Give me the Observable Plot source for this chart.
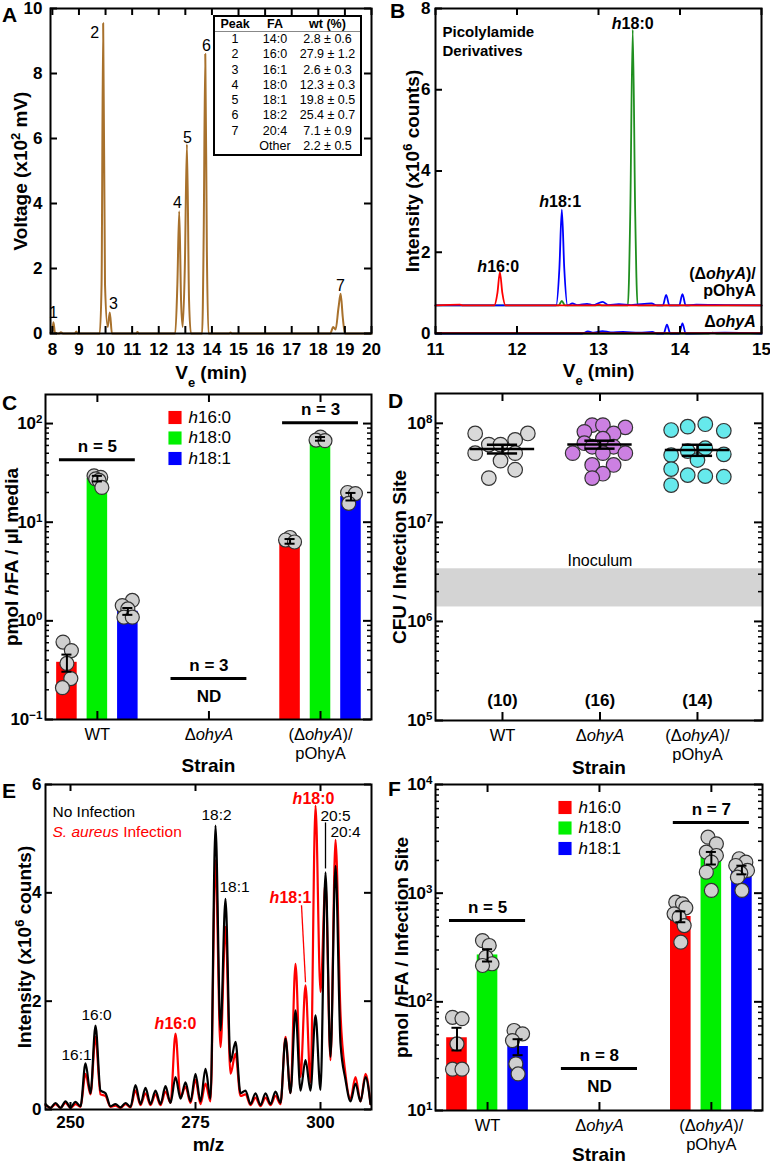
<!DOCTYPE html>
<html><head><meta charset="utf-8">
<script src="https://cdn.jsdelivr.net/npm/d3@7"></script>
<script src="https://cdn.jsdelivr.net/npm/@observablehq/plot@0.6"></script>
<style>
body{margin:0;background:#fff;font-family:"Liberation Sans",Arial,Helvetica,sans-serif;}
#fig{position:relative;width:770px;height:1165px;overflow:hidden;background:#fff;}
.letter{position:absolute;font-weight:bold;font-size:21px;line-height:1;}
#tbl{position:absolute;left:213px;top:15px;width:149px;height:141px;border:2px solid #000;box-sizing:border-box;background:#fff;font-size:12.5px;}
#tbl .row{display:flex;height:15.3px;line-height:15.3px;}
#tbl .hdr{height:14px;line-height:14px;font-weight:bold;border-bottom:1px solid #888;}
#tbl .c1{width:40px;text-align:center}
#tbl .c2{width:40px;text-align:center}
#tbl .c3{width:65px;text-align:center}
</style></head>
<body><div id="fig"></div>
<script>
// ---------------- DATA ----------------
// Panel A: GC chromatogram
const aTime = [7.93,8.0,8.04,8.1,8.25,8.32,8.4,8.85,8.9,8.95,9.78,9.85,9.91,9.98,10.08,10.16,10.24,11.15,11.2,11.25,12.62,12.7,12.77,12.84,12.9,12.98,13.06,13.14,13.21,13.63,13.69,13.75,13.81,13.87,14.65,14.7,14.75,18.45,18.56,18.65,18.76,18.84,18.92,19.0,20.0];
const aVolt = [0.02,0.05,0.35,0.02,0,0.04,0,0,0.06,0,0,1.5,9.55,1.5,0.2,0.65,0,0,0.05,0,0,1.5,3.76,1.0,0.2,2.0,5.82,1.0,0,0,3.0,8.6,2.5,0,0,0.03,0,0,0.2,0.12,0.8,1.22,0.5,0,0];
const aPeakLabel = ["1","2","3","4","5","6","7"];
const aPeakLabelT = [8.04,9.59,10.3,12.7,13.08,13.79,18.83];
const aPeakLabelV = [0.62,9.26,0.92,4.03,6.03,8.86,1.48];
const aTablePeak = ["1","2","3","4","5","6","7",""];
const aTableFA = ["14:0","16:0","16:1","18:0","18:1","18:2","20:4","Other"];
const aTableWt = ["2.8 ± 0.6","27.9 ± 1.2","2.6 ± 0.3","12.3 ± 0.3","19.8 ± 0.5","25.4 ± 0.7","7.1 ± 0.9","2.2 ± 0.5"];
const aXTicks = [8,9,10,11,12,13,14,15,16,17,18,19,20];
const aYTicks = [0,2,4,6,8,10];

// Panel B: LC-MS picolylamide traces [time, intensity x10^6]
const bUpperRed = [[11,0.69],[11.3,0.71],[11.34,0.69],[11.72,0.69],[11.76,1.0],[11.79,1.51],[11.82,1.0],[11.86,0.69],[12.95,0.69],[13.0,0.71],[13.05,0.69],[15,0.69]];
const bUpperBlue = [[11,0.69],[12.48,0.69],[12.52,1.6],[12.55,3.05],[12.58,1.6],[12.62,0.69],[12.68,0.74],[12.74,0.7],[12.86,0.73],[12.93,0.7],[13.05,0.78],[13.12,0.7],[13.25,0.72],[13.4,0.7],[13.65,0.74],[13.72,0.69],[13.79,0.69],[13.83,0.95],[13.87,0.69],[13.99,0.69],[14.03,0.97],[14.07,0.69],[14.2,0.71],[14.55,0.7],[15,0.69]];
const bUpperGreen = [[11,0.69],[12.51,0.69],[12.55,0.8],[12.59,0.69],[13.36,0.69],[13.39,3.0],[13.42,7.48],[13.45,3.0],[13.48,0.69],[15,0.69]];
const bLowerRed = [[11,0.01],[15,0.01]];
const bLowerBlue = [[11,0],[12.8,0],[12.87,0.05],[12.94,0.02],[13.05,0.06],[13.15,0.03],[13.3,0.04],[13.5,0.02],[13.66,0.04],[13.72,0],[13.8,0],[13.84,0.22],[13.88,0],[13.99,0],[14.03,0.25],[14.07,0],[14.55,0.02],[15,0]];
const bLowerGreen = [[11,0],[14.35,0],[14.4,0.02],[14.45,0],[15,0]];
const bPeakLabels = [{text:"*h*18:0", t:13.42, v:7.61},{text:"*h*18:1", t:12.53, v:3.23},{text:"*h*16:0", t:11.77, v:1.65}];
const bTraceLabels = [{text:"(Δ*ohyA*)/\npOhyA", t:14.93, v:1.27},{text:"Δ*ohyA*", t:14.93, v:0.3}];
const bXTicks = [11,12,13,14,15];
const bYTicks = [0,2,4,6,8];

// Shared categories
const STRAINS = ["WT","ΔohyA","(ΔohyA)/pOhyA"];
const STRAIN_LABELS = ["WT","Δ*ohyA*","(Δ*ohyA*)/\npOhyA"];
const SERIES = ["h16:0","h18:0","h18:1"];
const SERIES_LABELS = ["*h*16:0","*h*18:0","*h*18:1"];

// Panel C: hFA in media (pmol/µl)
const cBars = [
  {group:"WT", series:"h16:0", value:0.38, sem:0.075},
  {group:"WT", series:"h18:0", value:27.7, sem:1.8},
  {group:"WT", series:"h18:1", value:1.25, sem:0.1},
  {group:"(ΔohyA)/pOhyA", series:"h16:0", value:6.4, sem:0.35},
  {group:"(ΔohyA)/pOhyA", series:"h18:0", value:70, sem:3},
  {group:"(ΔohyA)/pOhyA", series:"h18:1", value:18.2, sem:1.6}
];
const cPoints = [
  {group:"WT", series:"h16:0", values:[0.61,0.50,0.37,0.26,0.21], jitter:[-0.035,0.04,0,0.035,-0.04]},
  {group:"WT", series:"h18:0", values:[29.5,28.5,27.5,26.5,22.5], jitter:[-0.03,0.03,-0.015,0.015,0.04]},
  {group:"WT", series:"h18:1", values:[1.61,1.43,1.32,1.09,1.09], jitter:[0.04,-0.05,0,-0.035,0.04]},
  {group:"(ΔohyA)/pOhyA", series:"h16:0", values:[7.0,6.6,6.3], jitter:[0,-0.04,0.04]},
  {group:"(ΔohyA)/pOhyA", series:"h18:0", values:[73,68,67], jitter:[0,-0.04,0.04]},
  {group:"(ΔohyA)/pOhyA", series:"h18:1", values:[20,19.5,15.5], jitter:[-0.03,0.04,-0.02]}
];
const cN = [{group:"WT", label:"n = 5", y:43},{group:"ΔohyA", label:"n = 3", y:0.26},{group:"(ΔohyA)/pOhyA", label:"n = 3", y:102}];
const cND = [{group:"ΔohyA", y:0.26}];
const cYTicks = [0.1,1,10,100];
const cYTickLabels = ["10^−1^","10^0^","10^1^","10^2^"];

// Panel D: CFU per infection site
const dPoints = [
  {group:"WT", values:[7.9e7,7.9e7,6.8e7,6.1e7,6.1e7,5.0e7,5.0e7,4.2e7,3.4e7,2.8e7],
   jitter:[-0.28,0.26,0.13,-0.14,-0.02,-0.28,0.13,-0.02,0.13,-0.14]},
  {group:"ΔohyA", values:[9.6e7,9.6e7,9.1e7,8.2e7,7.9e7,7.0e7,6.3e7,5.8e7,5.8e7,5.0e7,5.0e7,5.0e7,3.8e7,3.8e7,3.1e7,2.8e7],
   jitter:[-0.08,0.03,0.26,-0.16,0.14,0.03,-0.16,-0.08,0.14,-0.28,0.03,0.26,-0.08,0.14,0.03,-0.08]},
  {group:"(ΔohyA)/pOhyA", values:[8.55e7,9.25e7,9.8e7,8.4e7,4.78e7,5.25e7,5.6e7,4.86e7,4.26e7,3.45e7,3.0e7,2.93e7,2.89e7,2.38e7],
   jitter:[-0.27,-0.1,0.08,0.27,-0.27,-0.1,0.08,0.27,0,-0.27,-0.1,0.08,0.27,-0.27]}
];
const dInoculum = [1.4e6, 3.4e6];
const dYTicks = [1e5,1e6,1e7,1e8];
const dYTickLabels = ["10^5^","10^6^","10^7^","10^8^"];

// Panel E: MS spectrum, intensity x10^6
const eMz = [245,246,247,248,249,250,251,252,253,254,255,256,257,258,259,260,261,262,263,264,265,266,267,268,269,270,271,272,273,274,275,276,277,278,279,280,281,282,283,284,285,286,287,288,289,290,291,292,293,294,295,296,297,298,299,300,301,302,303,304,305,306,307,308,309,310];
const eNoInfection = [0.10,0.03,0.12,0.03,0.15,0.04,0.14,0.06,0.85,0.30,1.55,0.35,0.30,0.06,0.10,0.04,0.12,0.05,0.45,0.10,0.40,0.10,0.35,0.10,0.43,0.12,0.60,0.20,0.50,0.15,0.66,0.15,0.75,0.20,5.24,1.46,3.89,0.88,1.25,0.30,0.35,0.10,0.30,0.08,0.30,0.10,0.33,0.12,1.31,0.30,1.83,0.35,0.91,0.35,1.74,0.36,4.38,0.97,4.50,1.22,0.55,0.15,0.48,0.15,0.60,0.10];
const eInfection = [0.08,0.03,0.10,0.03,0.12,0.03,0.10,0.05,0.66,0.28,1.34,0.28,0.25,0.05,0.07,0.03,0.10,0.04,0.35,0.08,0.30,0.08,0.28,0.08,0.33,0.12,1.40,0.22,0.42,0.12,0.55,0.10,0.48,0.15,4.60,1.15,3.37,0.66,1.03,0.25,0.28,0.08,0.22,0.06,0.22,0.08,0.25,0.10,1.34,0.30,2.69,0.60,2.29,0.50,5.61,2.17,4.20,0.91,4.98,1.77,0.65,0.20,0.60,0.15,0.66,0.10];
const eLabels = [
  {text:"16:1", mz:251.2, v:1.0, hydroxy:false},
  {text:"16:0", mz:255.2, v:1.74, hydroxy:false},
  {text:"*h*16:0", mz:271.0, v:1.59, hydroxy:true},
  {text:"18:2", mz:279.2, v:5.43, hydroxy:false},
  {text:"18:1", mz:282.8, v:4.1, hydroxy:false},
  {text:"*h*18:1", mz:294.0, v:3.9, hydroxy:true},
  {text:"*h*18:0", mz:298.6, v:5.74, hydroxy:true},
  {text:"20:5", mz:303.0, v:5.41, hydroxy:false},
  {text:"20:4", mz:305.0, v:5.13, hydroxy:false}
];
const eLeaders = [{mz1:296.2, v1:3.77, mz2:297.0, v2:2.35, hydroxy:true},{mz1:301.0, v1:5.3, mz2:301.0, v2:4.45, hydroxy:false}];
const eXTicks = [250,275,300];
const eYTicks = [0,2,4,6];

// Panel F: hFA per infection site (pmol)
const fBars = [
  {group:"WT", series:"h16:0", value:46.7, sem:11},
  {group:"WT", series:"h18:0", value:270, sem:35},
  {group:"WT", series:"h18:1", value:38.8, sem:6.5},
  {group:"(ΔohyA)/pOhyA", series:"h16:0", value:610, sem:70},
  {group:"(ΔohyA)/pOhyA", series:"h18:0", value:2115, sem:280},
  {group:"(ΔohyA)/pOhyA", series:"h18:1", value:1640, sem:150}
];
const fPoints = [
  {group:"WT", series:"h16:0", values:[72,70,41,24,24], jitter:[-0.04,0.045,0,-0.04,0.045]},
  {group:"WT", series:"h18:0", values:[366,330,258,224,216], jitter:[-0.045,0.015,-0.015,0.04,-0.045]},
  {group:"WT", series:"h18:1", values:[54.5,50.8,44,26.9,21.7], jitter:[-0.036,0.04,-0.05,-0.02,0]},
  {group:"(ΔohyA)/pOhyA", series:"h16:0", values:[826,798,733,646,601,503,354], jitter:[-0.045,0.015,0.045,-0.06,-0.015,0.03,0]},
  {group:"(ΔohyA)/pOhyA", series:"h18:0", values:[3273,2843,2384,2222,1930,1561,1059], jitter:[-0.03,0.045,-0.045,0.045,0,-0.045,0]},
  {group:"(ΔohyA)/pOhyA", series:"h18:1", values:[2073,1930,1798,1618,1528,1403,1059], jitter:[-0.025,0.035,-0.055,0.05,-0.01,-0.04,0]}
];
const fN = [{group:"WT", label:"n = 5", y:560},{group:"ΔohyA", label:"n = 8", y:24.3},{group:"(ΔohyA)/pOhyA", label:"n = 7", y:4470}];
const fND = [{group:"ΔohyA", y:24.3}];
const fYTicks = [10,100,1000,10000];
const fYTickLabels = ["10^1^","10^2^","10^3^","10^4^"];

// ---------------- STYLE / LAYOUT ----------------
const FONT = '"Liberation Sans", Arial, Helvetica, sans-serif';
const STYLE = {fontFamily: FONT, fontSize: "16px", color: "#000", background: "transparent", overflow: "visible"};
const SERIES_COLORS = ["#ff0000","#00f000","#0000ff"];
const D_FILLS = ["#d9d9d9","#cc80e2","#66e9ec"];
const SER_OFF = [-0.273, 0, 0.273];
const BAR_HALF = 0.092, CAP_HALF = 0.045, ANN_HALF = 0.34;
const fig = document.getElementById("fig");
const fmtNum = d => String(d);

function richify(root) {
  const els = Array.from(root.querySelectorAll("text, tspan"));
  for (const el of els) {
    if (el.children.length) continue;
    const s = el.textContent;
    if (!/[*^_]/.test(s)) continue;
    const parts = s.split(/(\*[^*]+\*|\^[^^]+\^|_[^_]+_)/).filter(p => p);
    el.textContent = "";
    for (const p of parts) {
      const t = document.createElementNS("http://www.w3.org/2000/svg", "tspan");
      if (p.length > 1 && p[0] === "*" && p.endsWith("*")) { t.setAttribute("font-style", "italic"); t.textContent = p.slice(1, -1); }
      else if (p.length > 1 && p[0] === "^" && p.endsWith("^")) { t.setAttribute("baseline-shift", "super"); t.setAttribute("font-size", "68%"); t.textContent = p.slice(1, -1); }
      else if (p.length > 1 && p[0] === "_" && p.endsWith("_")) { t.setAttribute("baseline-shift", "sub"); t.setAttribute("font-size", "68%"); t.textContent = p.slice(1, -1); }
      else t.textContent = p;
      el.appendChild(t);
    }
  }
}
function place(svg, left, top) {
  svg.style.position = "absolute"; svg.style.left = left + "px"; svg.style.top = top + "px";
  fig.appendChild(svg); richify(svg);
}
function letter(ch, left, top) {
  const d = document.createElement("div"); d.className = "letter"; d.textContent = ch;
  d.style.left = left + "px"; d.style.top = top + "px"; fig.appendChild(d);
}
function inTicks({x = [], y = [], yMinor = [], xSides = ["top","bottom"], ySides = ["left","right"], W, H, major = 7, minor = 4}) {
  const m = [];
  for (const s of xSides) m.push(Plot.ruleX(x, {x: d => d, [s === "bottom" ? "insetTop" : "insetBottom"]: H - major, strokeWidth: 2}));
  for (const s of ySides) {
    m.push(Plot.ruleY(y, {y: d => d, [s === "left" ? "insetRight" : "insetLeft"]: W - major, strokeWidth: 2}));
    if (yMinor.length) m.push(Plot.ruleY(yMinor, {y: d => d, [s === "left" ? "insetRight" : "insetLeft"]: W - minor, strokeWidth: 1.5}));
  }
  return m;
}
function minorLog([lo, hi]) {
  const out = [];
  for (let e = Math.floor(Math.log10(lo)); e <= Math.ceil(Math.log10(hi)); e++)
    for (let k = 2; k <= 9; k++) { const v = k * 10 ** e; if (v > lo && v < hi) out.push(v); }
  return out;
}
const yTitle = (text, dx) => Plot.text([text], {text: d => d, frameAnchor: "left", dx, rotate: -90, textAnchor: "middle", lineAnchor: "middle", fontSize: 19, fontWeight: "bold"});
const xTitle = (text, dy) => Plot.text([text], {text: d => d, frameAnchor: "bottom", dy, textAnchor: "middle", lineAnchor: "middle", fontSize: 19, fontWeight: "bold"});
const pairs = arr => arr.map(([t, v]) => ({t, v}));

// ---------------- PANEL A ----------------
{
  const m = {top: 8, right: 14, bottom: 52, left: 50}, w = 385, h = 385;
  const W = w - m.left - m.right, H = h - m.top - m.bottom;
  const trace = aTime.map((t, i) => ({t, v: aVolt[i]}));
  const labels = aPeakLabel.map((s, i) => ({s, t: aPeakLabelT[i], v: aPeakLabelV[i]}));
  const svg = Plot.plot({
    width: w, height: h, marginTop: m.top, marginRight: m.right, marginBottom: m.bottom, marginLeft: m.left, style: STYLE,
    x: {domain: [7.93, 20]}, y: {domain: [0, 10]},
    marks: [
      Plot.line(trace, {x: "t", y: "v", stroke: "#a8712c", strokeWidth: 2, curve: "monotone-x"}),
      Plot.text(labels, {x: "t", y: "v", text: "s", fontSize: 16}),
      ...inTicks({x: aXTicks, y: aYTicks, W, H}),
      Plot.frame({strokeWidth: 2}),
      Plot.axisX({ticks: aXTicks, tickFormat: fmtNum, tickSize: 0, tickPadding: 9, fontSize: 17, fontWeight: "bold", label: null}),
      Plot.axisY({ticks: aYTicks, tickFormat: fmtNum, tickSize: 0, tickPadding: 8, fontSize: 17, fontWeight: "bold", label: null}),
      xTitle("V_e_ (min)", 39),
      yTitle("Voltage (x10^2^ mV)", -30)
    ]
  });
  place(svg, 0, 0);
  const tbl = document.createElement("div"); tbl.id = "tbl";
  const hdr = document.createElement("div"); hdr.className = "row hdr";
  hdr.innerHTML = '<div class="c1">Peak</div><div class="c2">FA</div><div class="c3">wt (%)</div>';
  tbl.appendChild(hdr);
  aTableFA.forEach((fa, i) => {
    const r = document.createElement("div"); r.className = "row";
    [aTablePeak[i], fa, aTableWt[i]].forEach((txt, k) => { const c = document.createElement("div"); c.className = "c" + (k + 1); c.textContent = txt; r.appendChild(c); });
    tbl.appendChild(r);
  });
  fig.appendChild(tbl);
  letter("A", 2, 4);
}

// ---------------- PANEL B ----------------
{
  const m = {top: 8, right: 9, bottom: 52, left: 50}, w = 385, h = 385;
  const W = w - m.left - m.right, H = h - m.top - m.bottom;
  const GREEN = "#1f8f1f", BLUE = "#0000ff", RED = "#ff0000";
  const ln = (d, c) => Plot.line(pairs(d), {x: "t", y: "v", stroke: c, strokeWidth: 1.8, curve: "monotone-x"});
  const svg = Plot.plot({
    width: w, height: h, marginTop: m.top, marginRight: m.right, marginBottom: m.bottom, marginLeft: m.left, style: STYLE,
    x: {domain: [11, 15]}, y: {domain: [0, 8]},
    marks: [
      ln(bLowerGreen, GREEN), ln(bLowerBlue, BLUE), ln(bLowerRed, RED),
      ln(bUpperGreen, GREEN), ln(bUpperBlue, BLUE), ln(bUpperRed, RED),
      Plot.text(bPeakLabels, {x: "t", y: "v", text: "text", fontSize: 16, fontWeight: "bold"}),
      Plot.text(bTraceLabels, {x: "t", y: "v", text: "text", fontSize: 16, fontWeight: "bold", textAnchor: "end", lineHeight: 1.07}),
      Plot.text(["Picolylamide\nDerivatives"], {text: d => d, frameAnchor: "top-left", dx: 7, dy: 31.5, textAnchor: "start", lineAnchor: "middle", fontSize: 15, fontWeight: "bold", lineHeight: 1.27}),
      ...inTicks({x: bXTicks, y: bYTicks, ySides: ["left"], W, H}),
      Plot.frame({strokeWidth: 2}),
      Plot.axisX({ticks: bXTicks, tickFormat: fmtNum, tickSize: 0, tickPadding: 9, fontSize: 17, fontWeight: "bold", label: null}),
      Plot.axisY({ticks: bYTicks, tickFormat: fmtNum, tickSize: 0, tickPadding: 5, fontSize: 17, fontWeight: "bold", label: null}),
      xTitle("V_e_ (min)", 37),
      yTitle("Intensity (x10^6^ counts)", -23)
    ]
  });
  place(svg, 385, 0);
  letter("B", 390, 0);
}

// ---------------- BAR PANELS (C, F) ----------------
function barPanel({bars, points, nAnn, nd, yDomain, yTicks, yTickLabels, title, m, h, xTitleDy}) {
  const w = 385, W = w - m.left - m.right, H = h - m.top - m.bottom;
  const gi = s => STRAINS.indexOf(s), si = s => SERIES.indexOf(s);
  const rows = bars.map(b => ({g: gi(b.group), s: si(b.series), v: b.value, e: b.sem}));
  const pts = points.flatMap(p => p.values.map((v, k) => ({g: gi(p.group), s: si(p.series), v, j: p.jitter[k]})));
  const ann = nAnn.map(a => ({g: gi(a.group), label: a.label, y: a.y}));
  const nds = nd.map(a => ({g: gi(a.group), y: a.y}));
  const cx = d => d.g + SER_OFF[d.s];
  const lab = new Map(yTicks.map((v, i) => [v, yTickLabels[i]]));
  const legend = SERIES_LABELS.flatMap((s, i) => [
    Plot.dot([s], {frameAnchor: "top-left", dx: 129.5, dy: 23 + i * 20.5, symbol: "square", r: 7.4, fill: SERIES_COLORS[i], stroke: "none"}),
    Plot.text([s], {text: d => d, frameAnchor: "top-left", dx: 143, dy: 23 + i * 20.5, textAnchor: "start", lineAnchor: "middle", fontSize: 17})
  ]);
  return Plot.plot({
    width: w, height: h, marginTop: m.top, marginRight: m.right, marginBottom: m.bottom, marginLeft: m.left, style: STYLE,
    x: {domain: [-0.465, 2.457]}, y: {type: "log", domain: yDomain}, color: {type: "identity"},
    marks: [
      Plot.rect(rows, {x1: d => cx(d) - BAR_HALF, x2: d => cx(d) + BAR_HALF, y1: yDomain[0], y2: "v", fill: d => SERIES_COLORS[d.s]}),
      Plot.dot(pts, {x: d => cx(d) + d.j, y: "v", r: 7, fill: "#cfcfcf", stroke: "#333", strokeWidth: 1.2}),
      Plot.ruleX(rows, {x: cx, y1: d => d.v - d.e, y2: d => d.v + d.e, strokeWidth: 2}),
      Plot.ruleY(rows, {y: d => d.v + d.e, x1: d => cx(d) - CAP_HALF, x2: d => cx(d) + CAP_HALF, strokeWidth: 2}),
      Plot.ruleY(rows, {y: d => d.v - d.e, x1: d => cx(d) - CAP_HALF, x2: d => cx(d) + CAP_HALF, strokeWidth: 2}),
      Plot.ruleY(ann, {y: "y", x1: d => d.g - ANN_HALF, x2: d => d.g + ANN_HALF, strokeWidth: 3}),
      Plot.text(ann, {x: "g", y: "y", text: "label", dy: -13, fontSize: 17, fontWeight: "bold"}),
      Plot.text(nds, {x: "g", y: "y", text: () => "ND", dy: 18, fontSize: 17, fontWeight: "bold"}),
      ...legend,
      ...inTicks({x: [0, 1, 2], y: yTicks, yMinor: minorLog(yDomain), W, H, major: 8, minor: 4}),
      Plot.frame({strokeWidth: 2}),
      Plot.axisX({ticks: [0, 1, 2], tickFormat: i => STRAIN_LABELS[i], tickSize: 0, tickPadding: 7, fontSize: 16.5, lineHeight: 1.15, label: null}),
      Plot.axisY({ticks: yTicks, tickFormat: v => lab.get(v), tickSize: 0, tickPadding: 3, fontSize: 17, fontWeight: "bold", label: null}),
      xTitle("Strain", xTitleDy),
      yTitle(title, -34)
    ]
  });
}

// ---------------- PANEL C ----------------
{
  const svg = barPanel({bars: cBars, points: cPoints, nAnn: cN, nd: cND, yDomain: [0.1, 197], yTicks: cYTicks, yTickLabels: cYTickLabels,
    title: "pmol *h*FA / µl media", m: {top: 9, right: 14, bottom: 61, left: 45}, h: 395, xTitleDy: 46});
  place(svg, 0, 385);
  letter("C", 2, 392);
}

// ---------------- PANEL D ----------------
{
  const m = {top: 8, right: 8, bottom: 60, left: 50}, w = 385, h = 395;
  const W = w - m.left - m.right, H = h - m.top - m.bottom;
  const yDomain = [1e5, 2.0e8];
  const pts = dPoints.flatMap(p => p.values.map((v, k) => ({g: STRAINS.indexOf(p.group), v, j: p.jitter[k]})));
  const stats = dPoints.map(p => ({g: STRAINS.indexOf(p.group), m: d3.mean(p.values), se: d3.deviation(p.values) / Math.sqrt(p.values.length), n: p.values.length}));
  const lab = new Map(dYTicks.map((v, i) => [v, dYTickLabels[i]]));
  const svg = Plot.plot({
    width: w, height: h, marginTop: m.top, marginRight: m.right, marginBottom: m.bottom, marginLeft: m.left, style: STYLE,
    x: {domain: [-0.687, 2.667]}, y: {type: "log", domain: yDomain}, color: {type: "identity"},
    marks: [
      Plot.rect([dInoculum], {y1: d => d[0], y2: d => d[1], fill: "#d4d4d4"}),
      Plot.text([{g: 1, y: dInoculum[1]}], {x: "g", y: "y", text: () => "Inoculum", dy: -8, fontSize: 16}),
      Plot.dot(pts, {x: d => d.g + d.j, y: "v", r: 7.3, fill: d => D_FILLS[d.g], stroke: "#333", strokeWidth: 1.2}),
      Plot.ruleY(stats, {y: "m", x1: d => d.g - 0.33, x2: d => d.g + 0.33, strokeWidth: 2.5}),
      Plot.ruleX(stats, {x: "g", y1: d => d.m - d.se, y2: d => d.m + d.se, strokeWidth: 2.5}),
      Plot.ruleY(stats, {y: d => d.m + d.se, x1: d => d.g - 0.155, x2: d => d.g + 0.155, strokeWidth: 2.5}),
      Plot.ruleY(stats, {y: d => d.m - d.se, x1: d => d.g - 0.155, x2: d => d.g + 0.155, strokeWidth: 2.5}),
      Plot.text(stats, {x: "g", text: d => `(${d.n})`, frameAnchor: "bottom", dy: -20, lineAnchor: "middle", fontSize: 17, fontWeight: "bold"}),
      ...inTicks({x: [0, 1, 2], y: dYTicks, yMinor: minorLog(yDomain), W, H, major: 8, minor: 4}),
      Plot.frame({strokeWidth: 2}),
      Plot.axisX({ticks: [0, 1, 2], tickFormat: i => STRAIN_LABELS[i], tickSize: 0, tickPadding: 7, fontSize: 16.5, lineHeight: 1.15, label: null}),
      Plot.axisY({ticks: dYTicks, tickFormat: v => lab.get(v), tickSize: 0, tickPadding: 3, fontSize: 17, fontWeight: "bold", label: null}),
      xTitle("Strain", 47),
      yTitle("CFU / Infection Site", -36)
    ]
  });
  place(svg, 385, 385);
  letter("D", 388, 390);
}

// ---------------- PANEL E ----------------
{
  const m = {top: 9, right: 14, bottom: 56, left: 45}, w = 385, h = 390;
  const W = w - m.left - m.right, H = h - m.top - m.bottom;
  const black = eMz.map((mz, i) => ({mz, v: eNoInfection[i]}));
  const red = eMz.map((mz, i) => ({mz, v: eInfection[i]}));
  const RED = "#ff0000";
  const svg = Plot.plot({
    width: w, height: h, marginTop: m.top, marginRight: m.right, marginBottom: m.bottom, marginLeft: m.left, style: STYLE,
    x: {domain: [245, 310.2]}, y: {domain: [0, 6]},
    marks: [
      Plot.line(red, {x: "mz", y: "v", stroke: RED, strokeWidth: 2.2, curve: "monotone-x"}),
      Plot.line(black, {x: "mz", y: "v", stroke: "#000", strokeWidth: 2.2, curve: "monotone-x"}),
      Plot.link(eLeaders, {x1: "mz1", y1: "v1", x2: "mz2", y2: "v2", stroke: d => d.hydroxy ? RED : "#000", strokeWidth: 1.3}),
      Plot.text(eLabels.filter(d => !d.hydroxy), {x: "mz", y: "v", text: "text", fontSize: 15.5}),
      Plot.text(eLabels.filter(d => d.hydroxy), {x: "mz", y: "v", text: "text", fontSize: 16, fontWeight: "bold", fill: RED}),
      Plot.text(["No Infection"], {text: d => d, frameAnchor: "top-left", dx: 7, dy: 28, textAnchor: "start", lineAnchor: "middle", fontSize: 15.5}),
      Plot.text(["*S. aureus* Infection"], {text: d => d, frameAnchor: "top-left", dx: 7, dy: 48, textAnchor: "start", lineAnchor: "middle", fontSize: 15.5, fill: RED}),
      ...inTicks({x: eXTicks, y: eYTicks, W, H}),
      Plot.frame({strokeWidth: 2}),
      Plot.axisX({ticks: eXTicks, tickFormat: fmtNum, tickSize: 0, tickPadding: 6, fontSize: 17, fontWeight: "bold", label: null}),
      Plot.axisY({ticks: eYTicks, tickFormat: fmtNum, tickSize: 0, tickPadding: 4, fontSize: 17, fontWeight: "bold", label: null}),
      xTitle("m/z", 35),
      yTitle("Intensity (x10^6^ counts)", -21)
    ]
  });
  place(svg, 0, 775);
  letter("E", 2, 780);
}

// ---------------- PANEL F ----------------
{
  const svg = barPanel({bars: fBars, points: fPoints, nAnn: fN, nd: fND, yDomain: [10, 10000], yTicks: fYTicks, yTickLabels: fYTickLabels,
    title: "pmol *h*FA / Infection Site", m: {top: 9, right: 8, bottom: 55, left: 50}, h: 390, xTitleDy: 44});
  place(svg, 385, 775);
  letter("F", 388, 778);
}
</script></body></html>
